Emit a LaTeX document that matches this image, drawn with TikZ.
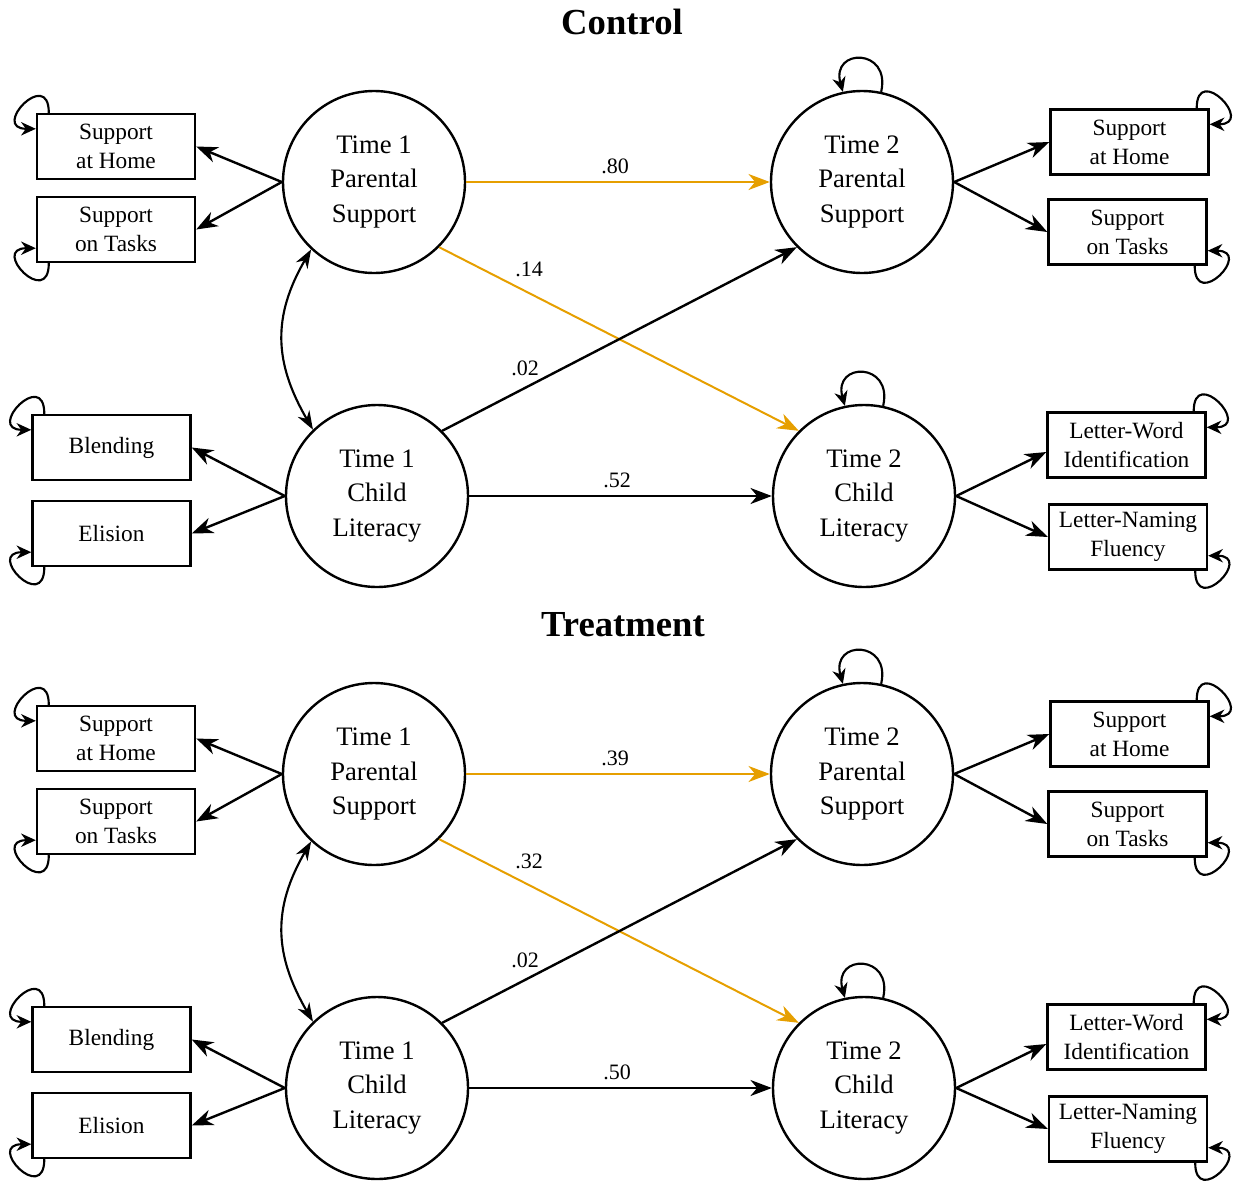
\documentclass[tikz,border=0pt]{standalone}
\usepackage{fontspec}
\setmainfont{Liberation Serif}
\usetikzlibrary{arrows.meta,calc}
\definecolor{pathorange}{RGB}{230,159,0}
\tikzset{
  latent/.style={circle, draw, line width=1.8pt, minimum size=136.5pt, inner sep=0pt, align=center, font=\fontsize{20}{26}\selectfont},
  observed/.style={rectangle, draw, line width=1.8pt, minimum width=118.5pt, minimum height=48.75pt, inner sep=0pt, align=center, font=\fontsize{17.5}{21.75}\selectfont},
  coef/.style={inner sep=0.75pt, font=\fontsize{16.5}{20}\selectfont},
  paneltitle/.style={inner sep=0.75pt, font=\fontsize{27.5}{33}\selectfont\bfseries},
  arr/.style={line width=1.8pt, -{Stealth[length=16pt,width=12pt,inset=5pt]}},
  arrO/.style={arr, line width=1.5pt, color=pathorange},
  loopy/.style={line width=1.6pt, -{Stealth[length=11pt,width=10pt,inset=3.5pt]}},
  cov/.style={line width=1.6pt, {Stealth[length=14pt,width=10pt,inset=4.5pt]}-{Stealth[length=14pt,width=10pt,inset=4.5pt]}}
}

\begin{document}
\begin{tikzpicture}[x=0.75pt,y=0.75pt,yscale=-1,xscale=1]
\useasboundingbox (0,0) rectangle (1236,1186);

% Text Node
\draw (622,22) node [paneltitle] (ttlA) {Control};
% Text Node
\draw (623,625) node [paneltitle] (ttlB) {Treatment};

%%%%%%%% Control %%%%%%%%
%Shape: Circle
\draw (374,182) node [latent] (T1PSa) {Time 1\\Parental\\Support};
%Shape: Circle
\draw (862,182) node [latent] (T2PSa) {Time 2\\Parental\\Support};
%Shape: Circle
\draw (377,496) node [latent] (T1CLa) {Time 1\\Child\\Literacy};
%Shape: Circle
\draw (864,496) node [latent] (T2CLa) {Time 2\\Child\\Literacy};
%Shape: Rectangle
\draw (116,146.5) node [observed] (hAa) {Support\\at Home};
\draw (116,229.5) node [observed] (tAa) {Support\\on Tasks};
\draw (111.5,447.5) node [observed] (bAa) {Blending};
\draw (111.5,533.5) node [observed] (eAa) {Elision};
\draw (1129.5,142) node [observed] (hBa) {Support\\at Home};
\draw (1127.5,232) node [observed] (tBa) {Support\\on Tasks};
\draw (1126.5,445) node [observed] (lwa) {Letter-Word\\Identification};
\draw (1128,537) node [observed] (lna) {Letter-Naming\\Fluency};

%Straight Lines
\draw [arr] (T1PSa.west) -- (hAa.east);
\draw [arr] (T1PSa.west) -- (tAa.east);
\draw [arr] (T1CLa.west) -- (bAa.east);
\draw [arr] (T1CLa.west) -- (eAa.east);
\draw [arr] (T2PSa.east) -- (hBa.west);
\draw [arr] (T2PSa.east) -- (tBa.west);
\draw [arr] (T2CLa.east) -- (lwa.185);
\draw [arr] (T2CLa.east) -- (lna.west);
%Straight Lines
\draw [arrO] (T1PSa.east) -- (T2PSa.west);
\draw [arrO] (T1PSa.-45) -- (T2CLa.135);
\draw [arr] (T1CLa.45) -- (T2PSa.-135);
\draw [arr] (T1CLa.east) -- (T2CLa.west);
%Curve Lines
\draw [cov] (T1PSa.227) .. controls +(-39,67) and +(-39,-67) .. (T1CLa.134);
%Curve Lines
\draw [loopy] (T2PSa.78) .. controls +(10,-44) and +(-12,-44) .. (T2PSa.102);
\draw [loopy] (T2CLa.78) .. controls +(10,-44) and +(-12,-44) .. (T2CLa.102);
\draw [loopy] ($(hAa.north west)+(13,0)$) .. controls +(0,-46) and +(-46,0) .. ($(hAa.north west)+(0,16)$);
\draw [loopy] ($(tAa.south west)+(13,0)$) .. controls +(0,46) and +(-46,0) .. ($(tAa.south west)+(0,-15)$);
\draw [loopy] ($(bAa.north west)+(13,0)$) .. controls +(0,-46) and +(-46,0) .. ($(bAa.north west)+(0,16)$);
\draw [loopy] ($(eAa.south west)+(13,0)$) .. controls +(0,46) and +(-46,0) .. ($(eAa.south west)+(0,-15)$);
\draw [loopy] ($(hBa.north east)+(-13,0)$) .. controls +(0,-46) and +(46,0) .. ($(hBa.north east)+(0,16)$);
\draw [loopy] ($(tBa.south east)+(-13,0)$) .. controls +(0,46) and +(46,0) .. ($(tBa.south east)+(0,-15)$);
\draw [loopy] ($(lwa.north east)+(-13,0)$) .. controls +(0,-46) and +(46,0) .. ($(lwa.north east)+(0,16)$);
\draw [loopy] ($(lna.south east)+(-13,0)$) .. controls +(0,46) and +(46,0) .. ($(lna.south east)+(0,-15)$);

% Text Node
\draw (615,166) node [coef] (cPPa) {.80};
\draw (529,269) node [coef] (cPCa) {.14};
\draw (525,368) node [coef] (cCPa) {.02};
\draw (617,480) node [coef] (cCCa) {.52};

%%%%%%%% Treatment %%%%%%%%
%Shape: Circle
\draw (374,774) node [latent] (T1PSb) {Time 1\\Parental\\Support};
%Shape: Circle
\draw (862,774) node [latent] (T2PSb) {Time 2\\Parental\\Support};
%Shape: Circle
\draw (377,1088) node [latent] (T1CLb) {Time 1\\Child\\Literacy};
%Shape: Circle
\draw (864,1088) node [latent] (T2CLb) {Time 2\\Child\\Literacy};
%Shape: Rectangle
\draw (116,738.5) node [observed] (hAb) {Support\\at Home};
\draw (116,821.5) node [observed] (tAb) {Support\\on Tasks};
\draw (111.5,1039.5) node [observed] (bAb) {Blending};
\draw (111.5,1125.5) node [observed] (eAb) {Elision};
\draw (1129.5,734) node [observed] (hBb) {Support\\at Home};
\draw (1127.5,824) node [observed] (tBb) {Support\\on Tasks};
\draw (1126.5,1037) node [observed] (lwb) {Letter-Word\\Identification};
\draw (1128,1129) node [observed] (lnb) {Letter-Naming\\Fluency};

%Straight Lines
\draw [arr] (T1PSb.west) -- (hAb.east);
\draw [arr] (T1PSb.west) -- (tAb.east);
\draw [arr] (T1CLb.west) -- (bAb.east);
\draw [arr] (T1CLb.west) -- (eAb.east);
\draw [arr] (T2PSb.east) -- (hBb.west);
\draw [arr] (T2PSb.east) -- (tBb.west);
\draw [arr] (T2CLb.east) -- (lwb.185);
\draw [arr] (T2CLb.east) -- (lnb.west);
%Straight Lines
\draw [arrO] (T1PSb.east) -- (T2PSb.west);
\draw [arrO] (T1PSb.-45) -- (T2CLb.135);
\draw [arr] (T1CLb.45) -- (T2PSb.-135);
\draw [arr] (T1CLb.east) -- (T2CLb.west);
%Curve Lines
\draw [cov] (T1PSb.227) .. controls +(-39,67) and +(-39,-67) .. (T1CLb.134);
%Curve Lines
\draw [loopy] (T2PSb.78) .. controls +(10,-44) and +(-12,-44) .. (T2PSb.102);
\draw [loopy] (T2CLb.78) .. controls +(10,-44) and +(-12,-44) .. (T2CLb.102);
\draw [loopy] ($(hAb.north west)+(13,0)$) .. controls +(0,-46) and +(-46,0) .. ($(hAb.north west)+(0,16)$);
\draw [loopy] ($(tAb.south west)+(13,0)$) .. controls +(0,46) and +(-46,0) .. ($(tAb.south west)+(0,-15)$);
\draw [loopy] ($(bAb.north west)+(13,0)$) .. controls +(0,-46) and +(-46,0) .. ($(bAb.north west)+(0,16)$);
\draw [loopy] ($(eAb.south west)+(13,0)$) .. controls +(0,46) and +(-46,0) .. ($(eAb.south west)+(0,-15)$);
\draw [loopy] ($(hBb.north east)+(-13,0)$) .. controls +(0,-46) and +(46,0) .. ($(hBb.north east)+(0,16)$);
\draw [loopy] ($(tBb.south east)+(-13,0)$) .. controls +(0,46) and +(46,0) .. ($(tBb.south east)+(0,-15)$);
\draw [loopy] ($(lwb.north east)+(-13,0)$) .. controls +(0,-46) and +(46,0) .. ($(lwb.north east)+(0,16)$);
\draw [loopy] ($(lnb.south east)+(-13,0)$) .. controls +(0,46) and +(46,0) .. ($(lnb.south east)+(0,-15)$);

% Text Node
\draw (615,758) node [coef] (cPPb) {.39};
\draw (529,861) node [coef] (cPCb) {.32};
\draw (525,960) node [coef] (cCPb) {.02};
\draw (617,1072) node [coef] (cCCb) {.50};

\end{tikzpicture}
\end{document}
